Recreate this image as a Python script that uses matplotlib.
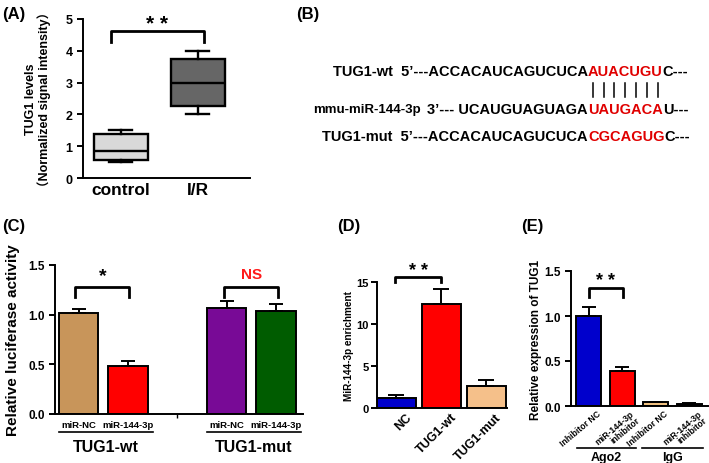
import matplotlib
matplotlib.use("Agg")
import matplotlib.pyplot as plt
from matplotlib.transforms import ScaledTranslation

plt.rcParams['font.family'] = ['Liberation Sans', 'Noto Sans CJK SC']
plt.rcParams['font.weight'] = 'bold'
plt.rcParams['axes.labelweight'] = 'bold'
plt.rcParams['axes.linewidth'] = 1.4
plt.rcParams['xtick.major.width'] = 1.4
plt.rcParams['ytick.major.width'] = 1.4

# ---- data ----
# (A) box plot
a_groups = ["control", "I/R"]
a_whislo = [0.5, 2.0]
a_q1 = [0.58, 2.25]
a_med = [0.85, 3.0]
a_q3 = [1.37, 3.75]
a_whishi = [1.5, 4.0]
a_colors = ["#d9d9d9", "#666666"]

# (B) sequences
wt_seq = ["TUG1-wt  5’---ACCACAUCAGUCUCA", "AUACUGU", "C---"]
mir_name = "mmu-miR-144-3p"
mir_seq = ["3’--- UCAUGUAGUAGA", "UAUGACA", "U---"]
mut_seq = ["TUG1-mut  5’---ACCACAUCAGUCUCA", "CGCAGUG", "C---"]

# (C) luciferase
c_labels = ["miR-NC", "miR-144-3p", "miR-NC", "miR-144-3p"]
c_groups = ["TUG1-wt", "TUG1-mut"]
c_pos = [0, 1, 3, 4]
c_vals = [1.02, 0.48, 1.07, 1.04]
c_err = [0.04, 0.05, 0.07, 0.07]
c_colors = ["#c8955a", "#ff0000", "#780a96", "#005c00"]

# (D) enrichment
d_labels = ["NC", "TUG1-wt", "TUG1-mut"]
d_vals = [1.2, 12.4, 2.6]
d_err = [0.4, 1.8, 0.7]
d_colors = ["#0000cc", "#ff0000", "#f5c08a"]

# (E) RIP
e_labels = ["Inhibitor NC", "miR-144-3p\ninhibitor", "Inhibitor NC", "miR-144-3p\ninhibitor"]
e_groups = ["Ago2", "IgG"]
e_vals = [1.0, 0.39, 0.04, 0.02]
e_err = [0.1, 0.04, 0.01, 0.01]
e_colors = ["#0000cc", "#ff0000", "#f0c080", "#6a0a8a"]

W, H = 709, 464
fig = plt.figure(figsize=(W / 100, H / 100), dpi=100)
renderer = fig.canvas.get_renderer()


def px_axes(l, t, r, b):
    return fig.add_axes([l / W, 1 - b / H, (r - l) / W, (b - t) / H])


def style(ax):
    ax.spines['top'].set_visible(False)
    ax.spines['right'].set_visible(False)
    ax.tick_params(axis='y', direction='out', length=4)
    ax.tick_params(axis='x', length=0)


def bracket(ax, x1, x2, y0, y1, text, size, color='black', ty=None):
    ax.plot([x1, x1, x2, x2], [y0, y1, y1, y0], color='black', lw=2, clip_on=False)
    ax.text((x1 + x2) / 2, ty, text, ha='center', va='center', fontsize=size,
            color=color, fontweight='bold')


def group_lines(ax, spans, names, yline, ytext, size):
    for (x1, x2), name in zip(spans, names):
        ax.plot([x1, x2], [yline, yline], color='black', lw=1.2,
                transform=ax.get_xaxis_transform(), clip_on=False)
        ax.text((x1 + x2) / 2, ytext, name, ha='center', va='center', fontsize=size,
                transform=ax.get_xaxis_transform())


def shift_labels(labels, dx_px):
    for lbl in labels:
        lbl.set_transform(lbl.get_transform() +
                          ScaledTranslation(dx_px / 100, 0, fig.dpi_scale_trans))


# ---- (A) ----
axA = px_axes(83, 20, 250, 179)
stats = []
for i in range(2):
    stats.append(dict(whislo=a_whislo[i], q1=a_q1[i], med=a_med[i], q3=a_q3[i],
                      whishi=a_whishi[i], fliers=[], label=a_groups[i]))
bp = axA.bxp(stats, positions=[1, 2], widths=0.7, capwidths=0.3, patch_artist=True,
             showfliers=False,
             boxprops=dict(linewidth=1.7, edgecolor='black'),
             medianprops=dict(color='black', linewidth=1.7),
             whiskerprops=dict(linewidth=1.7), capprops=dict(linewidth=1.7))
for patch, c in zip(bp['boxes'], a_colors):
    patch.set_facecolor(c)
axA.set_xlim(0.51, 2.68)
axA.set_ylim(0, 5)
axA.set_yticks([0, 1, 2, 3, 4, 5])
style(axA)
axA.tick_params(axis='y', labelsize=9)
axA.tick_params(axis='x', labelsize=12.5, pad=3)
axA.set_ylabel("TUG1 levels\n（Normalized signal intensity）", fontsize=9, linespacing=1.05)
axA.yaxis.set_label_coords(-0.19, 0.5)
bracket(axA, 0.87, 2.08, 4.28, 4.62, "* *", 15, ty=4.86)

# ---- (B) ----
axT = fig.add_axes([0, 0, 1, 1])
axT.axis('off')
axT.set_xlim(0, W)
axT.set_ylim(H, 0)
red_x = 588
fs = 10.5


def text_w(s, size):
    t = axT.text(0, 0, s, fontsize=size)
    w = t.get_window_extent(renderer).width
    t.remove()
    return w


def seq_row(parts, y, size=fs):
    axT.text(red_x, y, parts[0], ha='right', va='center', fontsize=size)
    axT.text(red_x, y, parts[1], ha='left', va='center', fontsize=size, color='#e00000')
    axT.text(red_x + text_w(parts[1], size), y, parts[2], ha='left', va='center',
             fontsize=size)
    centers = []
    for i in range(len(parts[1])):
        centers.append(red_x + (text_w(parts[1][:i], size) + text_w(parts[1][:i + 1], size)) / 2
                       if i > 0 else red_x + text_w(parts[1][0], size) / 2)
    return text_w(parts[0], size), centers


_, wt_centers = seq_row(wt_seq, 72)
mir_w, _ = seq_row(mir_seq, 110)
axT.text(red_x - mir_w - 7, 110, mir_name, ha='right', va='center', fontsize=9.5)
seq_row(mut_seq, 137)
for cx in wt_centers:
    axT.plot([cx, cx], [84, 98], color='black', lw=1.1)

# ---- (C) ----
axC = px_axes(55, 266, 303, 415)
axC.bar(c_pos, c_vals, width=0.8, color=c_colors, edgecolor='black', linewidth=1.4, zorder=2)
axC.errorbar(c_pos, c_vals, yerr=[[0] * 4, c_err], fmt='none', ecolor='black',
             elinewidth=1.4, capsize=5, capthick=1.4, zorder=3)
axC.set_xlim(-0.48, 4.55)
axC.set_ylim(0, 1.5)
axC.set_yticks([0, 0.5, 1.0, 1.5])
axC.set_yticklabels(["0.0", "0.5", "1.0", "1.5"])
axC.set_xticks(c_pos)
axC.set_xticklabels(c_labels)
axC.set_xticks([2], minor=True)
style(axC)
axC.tick_params(axis='x', which='minor', length=3, width=1)
axC.tick_params(axis='y', labelsize=8.5)
axC.tick_params(axis='x', labelsize=6.8, pad=4)
axC.set_ylabel("Relative luciferase activity", fontsize=11)
axC.yaxis.set_label_coords(-0.14, 0.5)
group_lines(axC, [(-0.4, 1.5), (2.6, 4.5)], c_groups, -0.121, -0.215, 11.5)
bracket(axC, -0.07, 1.03, 1.18, 1.28, "*", 14, ty=1.39)
bracket(axC, 2.95, 4.05, 1.18, 1.28, "NS", 11, color='#ff1a1a', ty=1.41)

# ---- (D) ----
axD = px_axes(377, 283, 507, 409)
d_pos = list(range(len(d_vals)))
axD.bar(d_pos, d_vals, width=0.88, color=d_colors, edgecolor='black', linewidth=1.4, zorder=2)
axD.errorbar(d_pos, d_vals, yerr=[[0] * 3, d_err], fmt='none', ecolor='black',
             elinewidth=1.4, capsize=6, capthick=1.4, zorder=3)
axD.set_xlim(-0.43, 2.46)
axD.set_ylim(0, 15)
axD.set_yticks([0, 5, 10, 15])
axD.set_xticks(d_pos)
axD.set_xticklabels(d_labels, rotation=45, ha='right', va='top', rotation_mode='anchor')
style(axD)
axD.tick_params(axis='y', labelsize=8, pad=2)
axD.tick_params(axis='x', labelsize=9, pad=2)
shift_labels(axD.get_xticklabels(), 9)
axD.set_ylabel("MiR-144-3p enrichment", fontsize=7.2)
axD.yaxis.set_label_coords(-0.175, 0.5)
bracket(axD, -0.03, 1.0, 15.0, 15.6, "* *", 13, ty=16.4)

# ---- (E) ----
axE = px_axes(571, 272, 708, 407)
e_pos = list(range(len(e_vals)))
axE.bar(e_pos, e_vals, width=0.75, color=e_colors, edgecolor='black', linewidth=1.4, zorder=2)
axE.errorbar(e_pos, e_vals, yerr=[[0] * 4, e_err], fmt='none', ecolor='black',
             elinewidth=1.4, capsize=5, capthick=1.4, zorder=3)
axE.set_xlim(-0.52, 3.55)
axE.set_ylim(0, 1.5)
axE.set_yticks([0, 0.5, 1.0, 1.5])
axE.set_yticklabels(["0.0", "0.5", "1.0", "1.5"])
axE.set_xticks(e_pos)
axE.set_xticklabels(e_labels, rotation=40, ha='right', va='top', rotation_mode='anchor',
                    linespacing=0.85)
style(axE)
axE.tick_params(axis='y', labelsize=8.5)
axE.tick_params(axis='x', labelsize=6.2, pad=2)
shift_labels(axE.get_xticklabels(), 8)
axE.set_ylabel("Relative expression of TUG1", fontsize=8.5)
axE.yaxis.set_label_coords(-0.21, 0.5)
group_lines(axE, [(-0.35, 1.4), (1.6, 3.4)], e_groups, -0.311, -0.378, 9)
bracket(axE, 0.0, 1.03, 1.21, 1.31, "* *", 13, ty=1.39)

# ---- panel letters ----
for lab, x, y in [("(A)", 2, 15), ("(B)", 296, 15), ("(C)", 2, 227),
                  ("(D)", 337, 227), ("(E)", 521, 227)]:
    fig.text(x / W, 1 - y / H, lab, fontsize=12, ha='left', va='center')

fig.savefig("out.png", dpi=100)
